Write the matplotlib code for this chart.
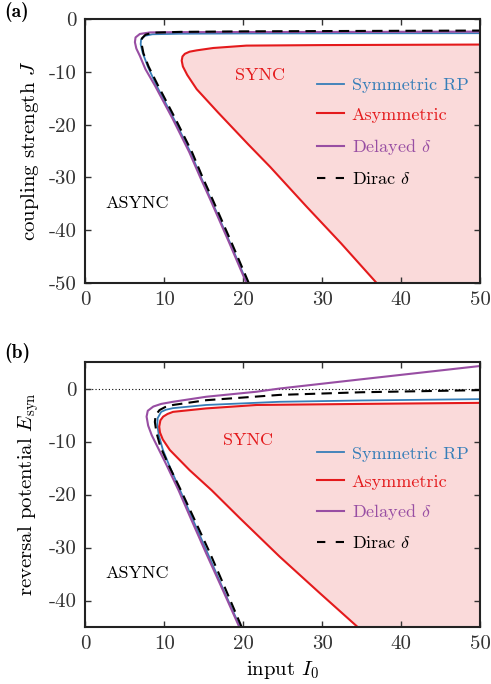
import matplotlib
matplotlib.use("Agg")
import matplotlib.pyplot as plt
from matplotlib.lines import Line2D

plt.rcParams["font.family"] = "serif"
plt.rcParams["font.serif"] = ["cmr10"]
plt.rcParams["mathtext.fontset"] = "cm"
plt.rcParams["axes.unicode_minus"] = False

# colours
c_sym = "#377eb8"
c_asym = "#e41a1c"
c_del = "#984ea3"
c_dir = "black"

# ---- panel (a): coupling strength J vs input I0 ----
a_sym_I = [20.5, 18.3, 15.95, 14.65, 13.3, 11.2, 9.0, 7.9, 7.25, 7.0, 7.05, 7.5, 8.5, 12.0, 20.0, 35.0, 50.0]
a_sym_J = [-50, -42.3, -34.3, -30.0, -25.2, -18.9, -12.6, -9.0, -6.4, -4.8, -3.9, -3.2, -2.9, -2.8, -2.75, -2.72, -2.7]

a_asym_I = [36.9, 32.4, 28.0, 23.4, 20.6, 16.8, 14.1, 12.9, 12.35, 12.2, 12.3, 12.6, 13.2, 14.1, 16.2, 20.4, 30.0, 40.0, 50.0]
a_asym_J = [-50, -42.5, -35.5, -28.0, -23.7, -17.7, -13.3, -10.6, -9.0, -7.9, -7.1, -6.6, -6.2, -5.95, -5.5, -5.05, -4.95, -4.9, -4.85]

a_del_I = [20.4, 18.2, 15.85, 14.55, 13.15, 11.05, 8.8, 7.6, 6.9, 6.45, 6.27, 6.35, 6.9, 8.2, 12.0, 20.0, 35.0, 50.0]
a_del_J = [-50, -42.3, -34.3, -30.0, -25.2, -18.9, -12.6, -9.5, -7.0, -5.6, -4.4, -3.5, -2.84, -2.55, -2.5, -2.48, -2.45, -2.4]

a_dir_I = [20.7, 18.5, 16.15, 14.85, 13.5, 11.4, 9.2, 8.0, 7.35, 7.1, 7.15, 7.6, 8.5, 12.0, 20.0, 35.0, 50.0]
a_dir_J = [-50, -42.3, -34.3, -30.0, -25.2, -18.9, -12.6, -9.0, -6.5, -4.6, -3.7, -3.0, -2.6, -2.45, -2.35, -2.27, -2.2]

# ---- panel (b): reversal potential E_syn vs input I0 ----
b_sym_I = [19.6, 17.5, 15.5, 13.4, 12.0, 10.7, 9.8, 9.3, 9.1, 9.15, 9.6, 10.2, 11.1, 15.3, 24.6, 35.0, 50.0]
b_sym_E = [-45, -38, -31.1, -24, -19.2, -14.8, -11.5, -8.8, -6.8, -5.6, -4.4, -4.0, -3.7, -3.1, -2.5, -2.25, -2.0]

b_asym_I = [34.5, 29.7, 24.6, 19.6, 16.0, 13.2, 10.7, 9.8, 9.45, 9.35, 9.5, 9.85, 10.4, 11.1, 15.3, 21.7, 35.0, 50.0]
b_asym_E = [-45, -38.6, -31.7, -24.5, -19.2, -15.4, -11.6, -9.6, -8.3, -7.2, -6.0, -5.3, -4.8, -4.4, -3.75, -3.1, -2.9, -2.7]

b_del_I = [19.5, 17.4, 15.3, 13.2, 11.8, 10.3, 9.2, 8.4, 7.95, 7.75, 7.9, 8.6, 9.6, 11.1, 15.3, 21.7, 24.6, 35.0, 50.0]
b_del_E = [-45, -38, -31.1, -24, -19.2, -14.5, -11.2, -8.8, -7.0, -5.3, -4.2, -3.4, -2.9, -2.5, -1.55, -0.6, 0.0, 1.75, 4.25]

b_dir_I = [19.8, 17.8, 15.8, 13.6, 12.1, 10.6, 9.5, 9.0, 8.8, 8.9, 9.4, 10.1, 11.1, 15.3, 24.6, 35.0, 50.0]
b_dir_E = [-45, -38, -31.1, -24, -19.2, -14.6, -11.0, -8.3, -6.3, -5.0, -4.05, -3.5, -3.1, -2.2, -1.2, -0.7, -0.3]

fig = plt.figure(figsize=(4.91, 6.84), dpi=100)
ax_a = fig.add_axes([0.174, 0.5863, 0.8035, 0.386])
ax_b = fig.add_axes([0.174, 0.0833, 0.8035, 0.3874])

fill_col = (0.894, 0.102, 0.110, 0.16)
fs = 13
fs_ax = 15


def draw(ax, sym, asym, dele, dirac, ymin):
    ax.fill(asym[0] + [50], asym[1] + [ymin], color=fill_col, lw=0)
    ax.plot(sym[0], sym[1], color=c_sym, lw=1.3)
    ax.plot(asym[0], asym[1], color=c_asym, lw=1.5)
    ax.plot(dele[0], dele[1], color=c_del, lw=1.5)
    ax.plot(dirac[0], dirac[1], color=c_dir, lw=1.5, dashes=(5, 3))
    ax.set_xlim(0, 50)
    ax.set_xticks([0, 10, 20, 30, 40, 50])
    ax.tick_params(direction="in", top=True, right=True, labelsize=fs_ax,
                   length=4, width=1, colors="#333333", pad=6)
    for s in ax.spines.values():
        s.set_linewidth(1.5)
        s.set_color("#222222")

    handles = [Line2D([], [], color=c_sym, lw=1.3),
               Line2D([], [], color=c_asym, lw=1.5),
               Line2D([], [], color=c_del, lw=1.5),
               Line2D([], [], color=c_dir, lw=1.5, dashes=(4, 5))]
    labels = ["Symmetric RP", "Asymmetric", r"Delayed $\delta$", r"Dirac $\delta$"]
    return handles, labels


def color_legend(leg):
    for t, c in zip(leg.get_texts(), [c_sym, c_asym, c_del, c_dir]):
        t.set_color(c)


h, l = draw(ax_a, (a_sym_I, a_sym_J), (a_asym_I, a_asym_J), (a_del_I, a_del_J),
            (a_dir_I, a_dir_J), -50)
ax_a.set_ylim(-50, 0)
ax_a.set_yticks([0, -10, -20, -30, -40, -50])
ax_a.set_ylabel(r"coupling strength $J$", fontsize=fs_ax, labelpad=6)
leg = ax_a.legend(h, l, loc="upper left", bbox_to_anchor=(0.545, 0.84), frameon=False,
                  fontsize=fs, handlelength=1.5, handletextpad=0.45, labelspacing=0.78)
color_legend(leg)
ax_a.text(22.1, -10.6, "SYNC", color=c_asym, fontsize=fs, ha="center", va="center")
ax_a.text(6.6, -35, "ASYNC", color="black", fontsize=fs, ha="center", va="center")
fig.text(0.008, 0.982, "(a)", fontsize=14, family="cmb10", ha="left", va="center")

h, l = draw(ax_b, (b_sym_I, b_sym_E), (b_asym_I, b_asym_E), (b_del_I, b_del_E),
            (b_dir_I, b_dir_E), -45)
ax_b.axhline(0, color="black", lw=0.8, ls=(0, (1, 2)), zorder=0)
ax_b.set_ylim(-45, 5)
ax_b.set_yticks([0, -10, -20, -30, -40])
ax_b.set_ylabel(r"reversal potential $E_{\rm syn}$", fontsize=fs_ax, labelpad=6)
ax_b.set_xlabel(r"input $I_0$", fontsize=fs_ax, labelpad=4)
leg = ax_b.legend(h, l, loc="upper left", bbox_to_anchor=(0.545, 0.745), frameon=False,
                  fontsize=fs, handlelength=1.5, handletextpad=0.45, labelspacing=0.7)
color_legend(leg)
ax_b.text(20.6, -9.7, "SYNC", color=c_asym, fontsize=fs, ha="center", va="center")
ax_b.text(6.6, -34.8, "ASYNC", color="black", fontsize=fs, ha="center", va="center")
fig.text(0.008, 0.484, "(b)", fontsize=14, family="cmb10", ha="left", va="center")

fig.savefig("out.png", dpi=100)
